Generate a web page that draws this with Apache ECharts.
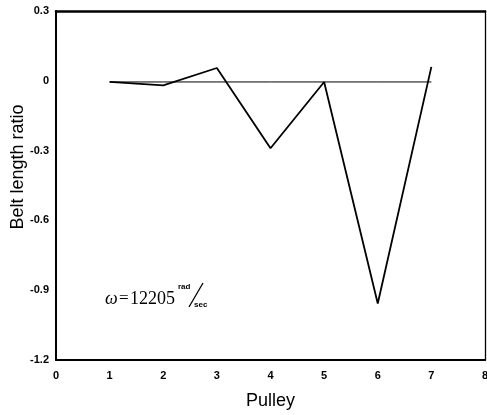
<!DOCTYPE html>
<html><head><meta charset="utf-8">
<script src="https://cdn.jsdelivr.net/npm/echarts@6/dist/echarts.min.js"></script>
<style>html,body{margin:0;padding:0;background:#fff}#c{width:487px;height:415px}</style>
</head><body><div id="c"></div>
<script>
var pulleys = [1, 2, 3, 4, 5, 6, 7];
var beltRatio = [-0.005, -0.02, 0.055, -0.29, -0.005, -0.957, 0.06];
var baseline = [-0.005, -0.005, -0.005, -0.005, -0.005, -0.005, -0.005];
var xTicks = [0, 1, 2, 3, 4, 5, 6, 7, 8];
var yTicks = ['0.3', '0', '-0.3', '-0.6', '-0.9', '-1.2'];

var chart = echarts.init(document.getElementById('c'));
function pairs(xs, ys){ return xs.map(function(x,i){ return [x, ys[i]]; }); }
var lblStyle = {color: '#000', fontFamily: 'Liberation Sans', fontWeight: 'bold', fontSize: 11};
chart.setOption({
  animation: false,
  grid: {left: 56, right: 2, top: 11, bottom: 55, outerBoundsMode: 'none', containLabel: false},
  xAxis: [{type: 'value', min: 0, max: 8, interval: 1, position: 'bottom',
    axisLine: {show: true, onZero: false, lineStyle: {color: '#000', width: 2}}, axisTick: {show: false}, splitLine: {show: false},
    axisLabel: Object.assign({margin: 10, formatter: function(v){ return String(xTicks[Math.round(v)]); }}, lblStyle),
    name: 'Pulley', nameLocation: 'middle', nameGap: 32,
    nameTextStyle: {color: '#000', fontFamily: 'Liberation Sans', fontSize: 18}},
   {type: 'value', min: 0, max: 8, position: 'top',
    axisLine: {show: true, onZero: false, lineStyle: {color: '#000', width: 2.5}}, axisTick: {show: false}, splitLine: {show: false},
    axisLabel: {show: false}}],
  yAxis: [{type: 'value', min: -1.2, max: 0.3, interval: 0.3, position: 'left',
    axisLine: {show: true, onZero: false, lineStyle: {color: '#000', width: 2}}, axisTick: {show: false}, splitLine: {show: false},
    axisLabel: Object.assign({margin: 7, formatter: function(v){ var i = Math.round((0.3 - v) / 0.3); return yTicks[i]; }}, lblStyle)},
   {type: 'value', min: -1.2, max: 0.3, position: 'right',
    axisLine: {show: true, onZero: false, lineStyle: {color: '#000', width: 1.3}}, axisTick: {show: false}, splitLine: {show: false},
    axisLabel: {show: false}}],
  graphic: [
    {type: 'text', x: 18, y: 167, rotation: Math.PI/2,
      style: {text: 'Belt length ratio', fill: '#000', font: '18px "Liberation Sans"', align: 'center', verticalAlign: 'middle'}},
    {type: 'text', x: 105, y: 299,
      style: {text: 'ω', fill: '#000', font: 'italic 18px "Liberation Serif"', verticalAlign: 'middle'}},
    {type: 'text', x: 119, y: 299,
      style: {text: '=', fill: '#000', font: '17px "Liberation Serif"', verticalAlign: 'middle'}},
    {type: 'text', x: 130, y: 299,
      style: {text: '12205', fill: '#000', font: '18px "Liberation Serif"', verticalAlign: 'middle'}},
    {type: 'text', x: 178, y: 287,
      style: {text: 'rad', fill: '#000', font: 'bold 8px "Liberation Sans"', verticalAlign: 'middle'}},
    {type: 'line', shape: {x1: 189, y1: 307, x2: 203, y2: 283}, style: {stroke: '#000', lineWidth: 1.3}},
    {type: 'text', x: 194, y: 305,
      style: {text: 'sec', fill: '#000', font: 'bold 8px "Liberation Sans"', verticalAlign: 'middle'}}
  ],
  series: [
    {type: 'line', data: pairs(pulleys, baseline), symbol: 'none', lineStyle: {color: '#000', width: 1}, z: 2},
    {type: 'line', data: pairs(pulleys, beltRatio), symbol: 'none', lineStyle: {color: '#000', width: 1.8}, z: 3}
  ]
});
</script></body></html>
